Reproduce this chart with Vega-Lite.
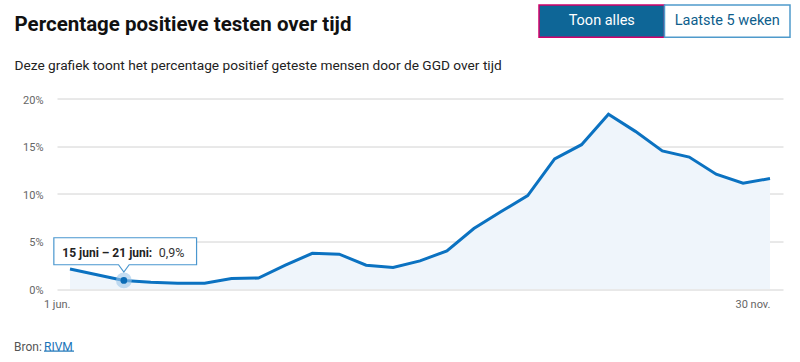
{
  "$schema": "https://vega.github.io/schema/vega-lite/v6.json",
  "width": 726,
  "height": 190.5,
  "autosize": {"type": "none"},
  "padding": {"left": 57, "top": 98.5, "right": 17, "bottom": 73},
  "background": "white",
  "config": {"view": {"stroke": null}, "font": "Roboto", "text": {"font": "Roboto"}},
  "datasets": {
    "pct": [
      {"week": "2020-06-01", "pct": 2.1},
      {"week": "2020-06-08", "pct": 1.5},
      {"week": "2020-06-15", "pct": 0.9},
      {"week": "2020-06-22", "pct": 0.7},
      {"week": "2020-06-29", "pct": 0.6},
      {"week": "2020-07-06", "pct": 0.6},
      {"week": "2020-07-13", "pct": 1.1},
      {"week": "2020-07-20", "pct": 1.15},
      {"week": "2020-07-27", "pct": 2.5},
      {"week": "2020-08-03", "pct": 3.75},
      {"week": "2020-08-10", "pct": 3.65},
      {"week": "2020-08-17", "pct": 2.5},
      {"week": "2020-08-24", "pct": 2.25},
      {"week": "2020-08-31", "pct": 2.95},
      {"week": "2020-09-07", "pct": 4.0},
      {"week": "2020-09-14", "pct": 6.35},
      {"week": "2020-09-21", "pct": 8.1},
      {"week": "2020-09-28", "pct": 9.8},
      {"week": "2020-10-05", "pct": 13.65},
      {"week": "2020-10-12", "pct": 15.15},
      {"week": "2020-10-19", "pct": 18.35},
      {"week": "2020-10-26", "pct": 16.55},
      {"week": "2020-11-02", "pct": 14.5},
      {"week": "2020-11-09", "pct": 13.85},
      {"week": "2020-11-16", "pct": 12.05},
      {"week": "2020-11-23", "pct": 11.1},
      {"week": "2020-11-30", "pct": 11.6}
    ],
    "tip": [
      {"week": "2020-06-15", "pct": 0.9, "periode": "15 juni – 21 juni:", "waarde": "0,9%"}
    ],
    "knoppen": [
      {"knop": "Toon alles", "actief": "ja"},
      {"knop": "Laatste 5 weken", "actief": "nee"}
    ],
    "kop": [
      {"regel": "titel", "tekst": "Percentage positieve testen over tijd"},
      {"regel": "sub", "tekst": "Deze grafiek toont het percentage positief geteste mensen door de GGD over tijd"}
    ],
    "bron": [
      {"deel": "a", "tekst": "Bron:"},
      {"deel": "b", "tekst": "RIVM"}
    ]
  },
  "resolve": {"scale": {"x": "independent", "y": "independent", "color": "independent"}},
  "layer": [
    {
      "layer": [
        {
          "data": {"name": "pct"},
          "mark": {"type": "area", "color": "#eff5fb"},
          "encoding": {
            "x": {
              "field": "week",
              "type": "temporal",
              "scale": {
                "type": "utc",
                "nice": false,
                "domain": [
                  {"year": 2020, "month": 5, "date": 28, "hours": 14, "minutes": 53, "utc": true},
                  {"year": 2020, "month": 12, "date": 3, "hours": 9, "minutes": 7, "utc": true}
                ]
              },
              "axis": {
                "values": [
                  {"year": 2020, "month": 6, "date": 1, "utc": true},
                  {"year": 2020, "month": 11, "date": 30, "utc": true}
                ],
                "labelExpr": "utcmonth(datum.value) == 5 ? '1 jun.' : '30 nov.'",
                "labelAlign": "right",
                "labelFlush": false,
                "labelOverlap": false,
                "labelPadding": 9,
                "ticks": false,
                "domain": false,
                "grid": false,
                "title": null,
                "labelColor": "#666666",
                "labelFontSize": 11,
                "labelFont": "Roboto"
              }
            },
            "y": {
              "field": "pct",
              "type": "quantitative",
              "scale": {"domain": [0, 20], "nice": false},
              "axis": {
                "values": [0, 5, 10, 15, 20],
                "labelExpr": "datum.value + '%'",
                "ticks": false,
                "domain": false,
                "grid": true,
                "gridColor": "#d2d2d2",
                "labelPadding": 14,
                "labelColor": "#666666",
                "labelFontSize": 11,
                "labelFont": "Roboto",
                "labelBaseline": "middle",
                "labelOffset": 1.5,
                "title": null
              }
            }
          }
        },
        {
          "data": {"name": "pct"},
          "mark": {"type": "line", "color": "#0b72c1", "strokeWidth": 3, "strokeJoin": "miter"},
          "encoding": {
            "x": {"field": "week", "type": "temporal"},
            "y": {"field": "pct", "type": "quantitative"}
          }
        },
        {
          "data": {"name": "tip"},
          "mark": {"type": "point", "filled": true, "color": "#9cc7ea", "opacity": 0.6, "size": 250},
          "encoding": {
            "x": {"field": "week", "type": "temporal"},
            "y": {"field": "pct", "type": "quantitative"}
          }
        },
        {
          "data": {"name": "tip"},
          "mark": {"type": "point", "filled": true, "color": "#0b6cb6", "opacity": 1, "size": 45},
          "encoding": {
            "x": {"field": "week", "type": "temporal"},
            "y": {"field": "pct", "type": "quantitative"}
          }
        },
        {
          "data": {"name": "tip"},
          "mark": {
            "type": "point",
            "shape": "M-1,-0.61L1.039,-0.61L1.039,-0.224L0.076,-0.224L0,-0.119L-0.076,-0.224L-1,-0.224Z",
            "size": 19600,
            "filled": true,
            "fill": "#ffffff",
            "stroke": "#4a97cf",
            "strokeWidth": 1.2,
            "opacity": 1
          },
          "encoding": {
            "x": {"field": "week", "type": "temporal"},
            "y": {"field": "pct", "type": "quantitative"}
          }
        },
        {
          "data": {"name": "tip"},
          "mark": {"type": "text", "align": "left", "baseline": "middle", "dx": -61.5, "dy": -27, "fontSize": 12, "fontWeight": "bold", "color": "#222222"},
          "encoding": {
            "x": {"field": "week", "type": "temporal"},
            "y": {"field": "pct", "type": "quantitative"},
            "text": {"field": "periode"}
          }
        },
        {
          "data": {"name": "tip"},
          "mark": {"type": "text", "align": "left", "baseline": "middle", "dx": 35, "dy": -27, "fontSize": 12.5, "color": "#333333"},
          "encoding": {
            "x": {"field": "week", "type": "temporal"},
            "y": {"field": "pct", "type": "quantitative"},
            "text": {"field": "waarde"}
          }
        }
      ]
    },
    {
      "data": {"name": "knoppen"},
      "encoding": {
        "x": {
          "field": "knop",
          "type": "nominal",
          "scale": {"domain": ["Toon alles", "Laatste 5 weken"], "range": [482, 733], "paddingInner": 0, "paddingOuter": 0},
          "axis": null
        },
        "y": {
          "datum": "knoppen",
          "type": "nominal",
          "scale": {"range": [-93.5, -61.2], "paddingInner": 0, "paddingOuter": 0},
          "axis": null
        }
      },
      "layer": [
        {
          "mark": {"type": "rect", "strokeWidth": 1.5},
          "encoding": {
            "fill": {"field": "actief", "type": "nominal", "scale": {"domain": ["ja", "nee"], "range": ["#0e6697", "#ffffff"]}, "legend": null},
            "stroke": {"field": "actief", "type": "nominal", "scale": {"domain": ["ja", "nee"], "range": ["#d1006a", "#4f9acb"]}, "legend": null},
            "strokeDash": {"field": "actief", "type": "nominal", "scale": {"domain": ["ja", "nee"], "range": [[1.5, 1.5], [1, 0]]}, "legend": null}
          }
        },
        {
          "mark": {"type": "text", "fontSize": 14.5, "baseline": "middle"},
          "encoding": {
            "text": {"field": "knop"},
            "color": {"field": "actief", "type": "nominal", "scale": {"domain": ["ja", "nee"], "range": ["#ffffff", "#0e5e8c"]}, "legend": null}
          }
        }
      ]
    },
    {
      "data": {"name": "kop"},
      "encoding": {
        "x": {
          "datum": "links",
          "type": "nominal",
          "bandPosition": 0,
          "scale": {"range": [-43, -42], "paddingInner": 0, "paddingOuter": 0},
          "axis": null
        },
        "y": {
          "field": "regel",
          "type": "nominal",
          "scale": {"domain": ["titel", "sub"], "range": [-86.75, -9.75], "paddingInner": 0, "paddingOuter": 0},
          "axis": null
        }
      },
      "layer": [
        {
          "transform": [{"filter": "datum.regel == 'titel'"}],
          "mark": {"type": "text", "align": "left", "baseline": "alphabetic", "fontSize": 20.5, "fontWeight": "bold", "color": "#111111"},
          "encoding": {"text": {"field": "tekst"}}
        },
        {
          "transform": [{"filter": "datum.regel == 'sub'"}],
          "mark": {"type": "text", "align": "left", "baseline": "alphabetic", "fontSize": 13.7, "color": "#222222"},
          "encoding": {"text": {"field": "tekst"}}
        }
      ]
    },
    {
      "data": {"name": "bron"},
      "encoding": {
        "x": {
          "field": "deel",
          "type": "nominal",
          "bandPosition": 0,
          "scale": {"domain": ["a", "b"], "range": [-43, 17], "paddingInner": 0, "paddingOuter": 0},
          "axis": null
        },
        "y": {
          "datum": "bron",
          "type": "nominal",
          "scale": {"range": [252, 253.2], "paddingInner": 0, "paddingOuter": 0},
          "axis": null
        }
      },
      "layer": [
        {
          "mark": {"type": "text", "align": "left", "baseline": "middle", "yOffset": -4.2, "fontSize": 12},
          "encoding": {
            "text": {"field": "tekst"},
            "color": {"field": "deel", "type": "nominal", "scale": {"domain": ["a", "b"], "range": ["#555555", "#1a74b8"]}, "legend": null}
          }
        },
        {
          "transform": [{"filter": "datum.deel == 'b'"}],
          "mark": {"type": "rect", "color": "#1a74b8"},
          "encoding": {
            "x": {"field": "deel", "type": "nominal"}
          }
        }
      ]
    }
  ]
}
